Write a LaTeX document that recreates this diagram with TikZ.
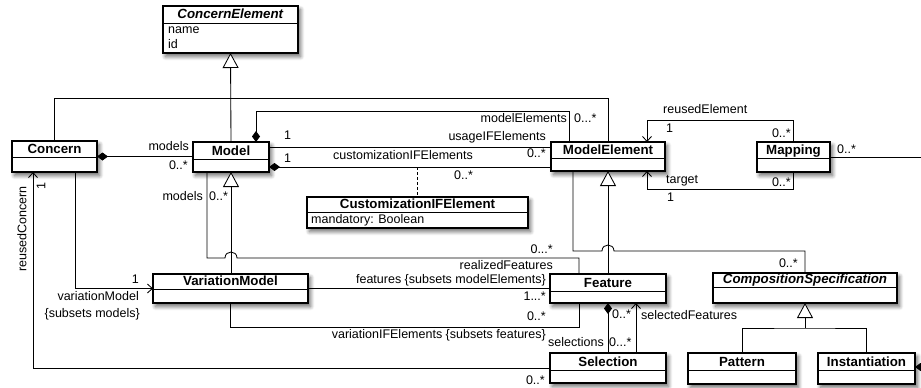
\documentclass[tikz,border=0pt]{standalone}
\usepackage{fontspec}
\setmainfont{Liberation Sans}
\usetikzlibrary{arrows.meta,shadows.blur}

\tikzset{
 clsbox/.style={draw, line width=1.1pt, fill=white, outer sep=0pt, inner sep=0pt, anchor=north west,
   blur shadow={shadow xshift=2.5pt, shadow yshift=-3.5pt, shadow blur radius=4pt, shadow blur steps=8, shadow opacity=60}},
 clstitle/.style={font=\fontsize{13.3}{15}\selectfont\bfseries, inner sep=0pt, anchor=base},
 lbl/.style={font=\fontsize{12.5}{14}\selectfont, inner sep=0pt, text height=9pt, text depth=2.5pt},
 conn/.style={line width=0.85pt},
 gen/.style={conn, -{Triangle[open, length=15pt, width=16pt, fill=white]}},
 comp/.style={conn, {Diamond[length=11pt, width=8pt]}-},
 nav/.style={conn, -{Straight Barb[length=5pt, width=9pt]}},
}

\newcommand{\umlcls}[7]{%
  \node[clsbox, minimum width=#4pt-#2pt, minimum height=#5pt-#3pt] (#1) at (#2,#3) {};
  \draw[line width=0.9pt] (#2,#6) -- (#4,#6);
  \node[clstitle] (#1-t) at ({(#2+#4)/2},{#6-4}) {#7};
}

\begin{document}
\begin{tikzpicture}[x=1pt, y=-1pt]
\useasboundingbox (0,0) rectangle (921,388);

% classes
\umlcls{ce}{163}{6}{298}{53}{23}{\textit{ConcernElement}}
\node[lbl, anchor=west] (ce-a1) at (168,30) {name};
\node[lbl, anchor=west] (ce-a2) at (168,45) {id};
\umlcls{concern}{12}{141}{97}{172}{157}{Concern}
\umlcls{model}{193}{142}{269}{172}{159}{Model}
\umlcls{me}{551}{142}{665}{171}{158}{ModelElement}
\umlcls{mapping}{757}{142}{830}{172}{158}{Mapping}
\umlcls{cife}{307}{197}{528}{228}{212}{CustomizationIFElement}
\node[lbl, anchor=west] (cife-a1) at (311,220) {mandatory: Boolean};
\umlcls{vm}{153}{274}{308}{303}{289}{VariationModel}
\umlcls{feature}{550}{274}{666}{303}{291}{Feature}
\umlcls{cs}{713}{273}{897}{303}{287}{\textit{CompositionSpecification}}
\umlcls{selection}{550}{353}{666}{383}{370}{Selection}
\umlcls{pattern}{688}{353}{796}{384}{370}{Pattern}
\umlcls{inst}{818}{353}{915}{384}{370}{Instantiation}

% coordinates
\coordinate (j1) at (231,98);
\coordinate (ac) at (417,167);
\coordinate (edgeA) at (921,157);
\coordinate (edgeB) at (921,367);
\coordinate (j2) at (805,328);

% generalizations to ConcernElement
\draw[gen] (model.north) -- (ce.south);
\draw[conn] (concern.north) |- (me.north |- j1) -- (me.north);

% Concern - Model
\draw[comp] (concern.east) -- (concern.east -| model.west);
\node[lbl, anchor=east] (l1) at (189,147) {models};
\node[lbl, anchor=east] (l2) at (188,166) {0..*};

% Model - ModelElement
\draw[comp] (model.north -| 256,0) |- (569,111) -- (me.north -| 569,0);
\node[lbl, anchor=east] (l3) at (567,119) {modelElements};
\node[lbl, anchor=west] (l4) at (574,119) {0...*};
\draw[conn] (model.east |- 0,147) -- (me.west |- 0,147);
\node[lbl, anchor=west] (l5) at (284,136) {1};
\node[lbl, anchor=east] (l6) at (546,137) {usageIFElements};
\draw[comp] (model.east |- ac) -- (me.west |- ac);
\node[lbl, anchor=west] (l7) at (284,159) {1};
\node[lbl] (l8) at (403,156) {customizationIFElements};
\node[lbl, anchor=east] (l9) at (546,154) {0..*};
\node[lbl, anchor=west] (l10) at (454,176) {0..*};
\draw[conn, dash pattern=on 3pt off 2pt] (ac) -- (cife.north -| ac);

% Mapping
\draw[nav] (mapping.north) |- (647,120) -- (me.north -| 647,0);
\node[lbl, anchor=west] (l11) at (663,110) {reusedElement};
\node[lbl, anchor=west] (l12) at (666,129) {1};
\node[lbl, anchor=east] (l13) at (791,134) {0..*};
\draw[nav] (mapping.south) |- (647,189) -- (me.south -| 647,0);
\node[lbl, anchor=west] (l14) at (666,180) {target};
\node[lbl, anchor=east] (l15) at (791,183) {0..*};
\node[lbl, anchor=west] (l16) at (667,198) {1};
\draw[conn] (mapping.east) -- (edgeA);
\node[lbl, anchor=west] (l17) at (837,150) {0..*};

% ModelElement specializations
\draw[gen] (feature.north) -- (me.south);
\draw[conn] (me.south -| 573,0) -- (573,251) -- (602,251) .. controls (602,243) and (614,243) .. (614,251) -- (cs.north |- 0,251) -- (cs.north);
\node[lbl, anchor=east] (l18) at (798,264) {0..*};

% CompositionSpecification specializations
\draw[gen] (j2) -- (cs.south);
\draw[conn] (pattern.north) |- (j2) -| (inst.north);
\draw[comp] (inst.east |- edgeB) -- (edgeB);

% Model - Feature (realizedFeatures)
\draw[conn] (model.south -| 207,0) -- (207,258) -- (225,258) .. controls (225,250) and (237,250) .. (237,258) -- (579,258) -- (feature.north -| 579,0);
\node[lbl, anchor=east] (l19) at (203,197) {models};
\node[lbl, anchor=west] (l20) at (209,197) {0..*};
\node[lbl, anchor=east] (l21) at (553,250) {0...*};
\node[lbl, anchor=east] (l22) at (553,266) {realizedFeatures};

% VariationModel
\draw[gen] (vm.north -| model.south) -- (model.south);
\draw[nav] (concern.south -| 75,0) |- (vm.west);
\node[lbl, anchor=east] (l23) at (139,280) {1};
\node[lbl, anchor=east] (l24) at (139,297) {variationModel};
\node[lbl, anchor=east] (l25) at (140,314) {\{subsets models\}};
\draw[conn] (vm.east) -- (feature.west);
\node[lbl, anchor=east] (l26) at (546,280) {features \{subsets modelElements\}};
\node[lbl, anchor=east] (l27) at (546,297) {1...*};
\draw[conn] (vm.south) |- (579,327) -- (feature.south -| 579,0);
\node[lbl, anchor=east] (l28) at (546,317) {0..*};
\node[lbl, anchor=east] (l29) at (546,335) {variationIFElements \{subsets features\}};

% Selection
\draw[nav] (selection.west) -| (concern.south -| 33,0);
\node[lbl, rotate=90] (l30) at (23,229) {reusedConcern};
\node[lbl, rotate=90] (l31) at (42,186) {1};
\node[lbl, anchor=east] (l32) at (545,381) {0..*};
\draw[comp] (feature.south) -- (selection.north);
\node[lbl, anchor=east] (l33) at (604,343) {selections};
\node[lbl, anchor=west] (l34) at (609,343) {0...*};
\draw[nav] (selection.north -| 636,0) -- (feature.south -| 636,0);
\node[lbl, anchor=west] (l35) at (612,315) {0..*};
\node[lbl, anchor=west] (l36) at (641,316) {selectedFeatures};
\end{tikzpicture}
\end{document}
